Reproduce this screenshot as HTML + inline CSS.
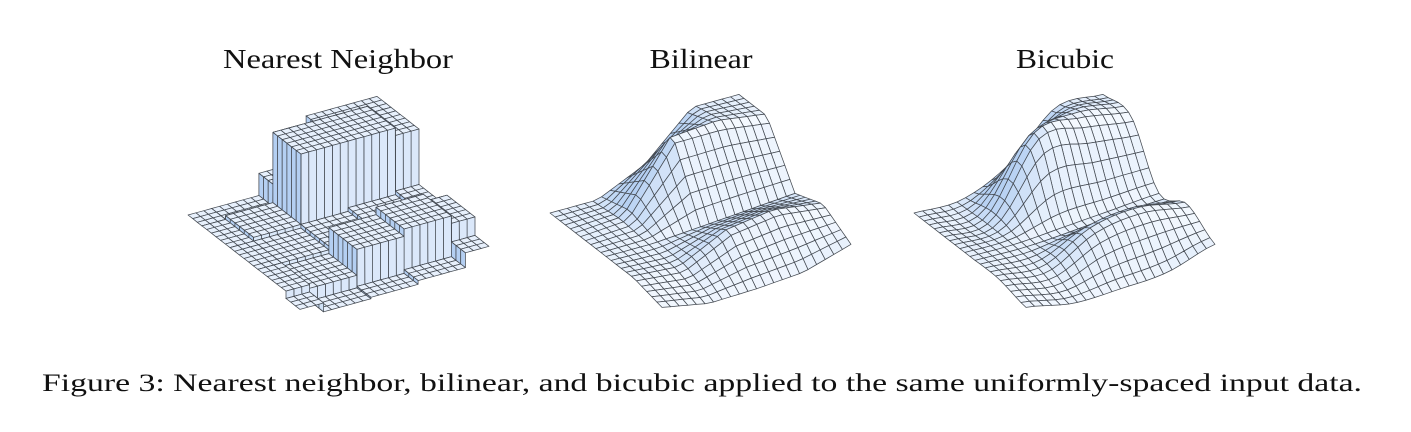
<!DOCTYPE html>
<html><head><meta charset="utf-8"><style>
html,body{margin:0;padding:0;background:#fff;width:1411px;height:432px;overflow:hidden}
svg{display:block}
text{font-family:"Liberation Serif",serif;fill:#111}
</style></head><body>
<svg id="fig" width="1411" height="432" viewBox="0 0 1411 432">
<text x="338" y="68" font-size="27" text-anchor="middle" textLength="230" lengthAdjust="spacingAndGlyphs">Nearest Neighbor</text>
<text x="701" y="68" font-size="27" text-anchor="middle" textLength="103" lengthAdjust="spacingAndGlyphs">Bilinear</text>
<text x="1065" y="68" font-size="27" text-anchor="middle" textLength="98" lengthAdjust="spacingAndGlyphs">Bicubic</text>
<g id="plots"></g>
<text x="42" y="391" font-size="25" textLength="1320" lengthAdjust="spacingAndGlyphs">Figure 3: Nearest neighbor, bilinear, and bicubic applied to the same uniformly-spaced input data.</text>
</svg>
<script>
// input samples Z[u][v] on a uniform 5x5 grid (u: left→right-back, v: back→front)
const row0 = [0, 0, 0, 0, -0.1];
const row1 = [0, 0.05, 0, -0.05, -0.22];
const row2 = [0.3, 1.0, 0.05, 0.3, -0.2];
const row3 = [0.9, 1.0, 0.1, 0.4, -0.15];
const row4 = [0.9, 0.9, 0.15, 0.3, 0.05];
const Z = [row0, row1, row2, row3, row4];
const methods = ["nearest", "bilinear", "bicubic"];
const origins = [[188,215],[550,213],[914,213]];

const N = Z.length - 1;
const cl = (i)=>Math.max(0,Math.min(N,i));
function nn(u,v){return Z[cl(Math.round(u))][cl(Math.round(v))];}
function bil(u,v){
  const i=Math.min(Math.floor(u),N-1), j=Math.min(Math.floor(v),N-1);
  const a=u-i,b=v-j;
  return Z[i][j]*(1-a)*(1-b)+Z[i+1][j]*a*(1-b)+Z[i][j+1]*(1-a)*b+Z[i+1][j+1]*a*b;
}
function cr(p0,p1,p2,p3,t){
  return 0.5*((2*p1)+(-p0+p2)*t+(2*p0-5*p1+4*p2-p3)*t*t+(-p0+3*p1-3*p2+p3)*t*t*t);
}
function bic(u,v){
  const i=Math.min(Math.floor(u),N-1), j=Math.min(Math.floor(v),N-1);
  const a=u-i,b=v-j; const r=[];
  for(let k=-1;k<3;k++){
    const ii=cl(i+k);
    r.push(cr(Z[ii][cl(j-1)],Z[ii][cl(j)],Z[ii][cl(j+1)],Z[ii][cl(j+2)],b));
  }
  return cr(r[0],r[1],r[2],r[3],a);
}
const fns={nearest:nn,bilinear:bil,bicubic:bic};
const UX=[189/N,-52/N], VX=[112/N,87/N], H=74;
const g=document.getElementById('plots');
const NS="http://www.w3.org/2000/svg";
function mix(c1,c2,t){return 'rgb('+c1.map((c,k)=>Math.round(c+(c2[k]-c)*t)).join(',')+')';}
methods.forEach((m,mi)=>{
  const f=fns[m], O=origins[mi];
  let cs=[]; const steps=m==="nearest"?24:22;
  for(let k=0;k<=steps;k++) cs.push(N*k/steps);
  if(m==="nearest"){for(let b=0.5;b<N;b+=1){cs.push(b-0.0005);cs.push(b+0.0005);}}
  cs.sort((a,b)=>a-b);
  const P=(u,v)=>{const h=f(u,v);return [O[0]+u*UX[0]+v*VX[0], O[1]+u*UX[1]+v*VX[1]-h*H, h];};
  const pts=cs.map(u=>cs.map(v=>P(u,v)));
  const quads=[];
  for(let i=0;i<cs.length-1;i++)for(let j=0;j<cs.length-1;j++){
    const a=pts[i][j],b=pts[i+1][j],c=pts[i+1][j+1],d=pts[i][j+1];
    const du=cs[i+1]-cs[i], dv=cs[j+1]-cs[j];
    const w=2.2;
    const hx=((b[2]+c[2])-(a[2]+d[2]))/2*w, hy=((d[2]+c[2])-(a[2]+b[2]))/2*w;
    let nx=-hx*dv, ny=-hy*du, nz=du*dv;
    const L=Math.hypot(nx,ny,nz)||1; nx/=L;ny/=L;nz/=L;
    let lam=nx*0.35+ny*0.55+nz*0.75; lam=Math.max(0,Math.min(1,(lam+0.1)/1.1));
    quads.push({p:[a,b,c,d],depth:(cs[i]+du/2)-(cs[j]+dv/2),col:mix([180,207,242],[246,250,255],lam)});
  }
  quads.sort((x,y)=>y.depth-x.depth);
  const grp=document.createElementNS(NS,'g');
  
  
  quads.forEach(q=>{
    const pl=document.createElementNS(NS,'polygon');
    
    
    pl.setAttribute('points',q.p.map(p=>p[0].toFixed(1)+','+p[1].toFixed(1)).join(' '));
    pl.setAttribute('fill',q.col);
    pl.setAttribute('stroke','#444a52');
    pl.setAttribute('stroke-width','0.75');
    pl.setAttribute('stroke-linejoin','round');
    grp.appendChild(pl);
  });
  g.appendChild(grp);
});
</script>
</body></html>
